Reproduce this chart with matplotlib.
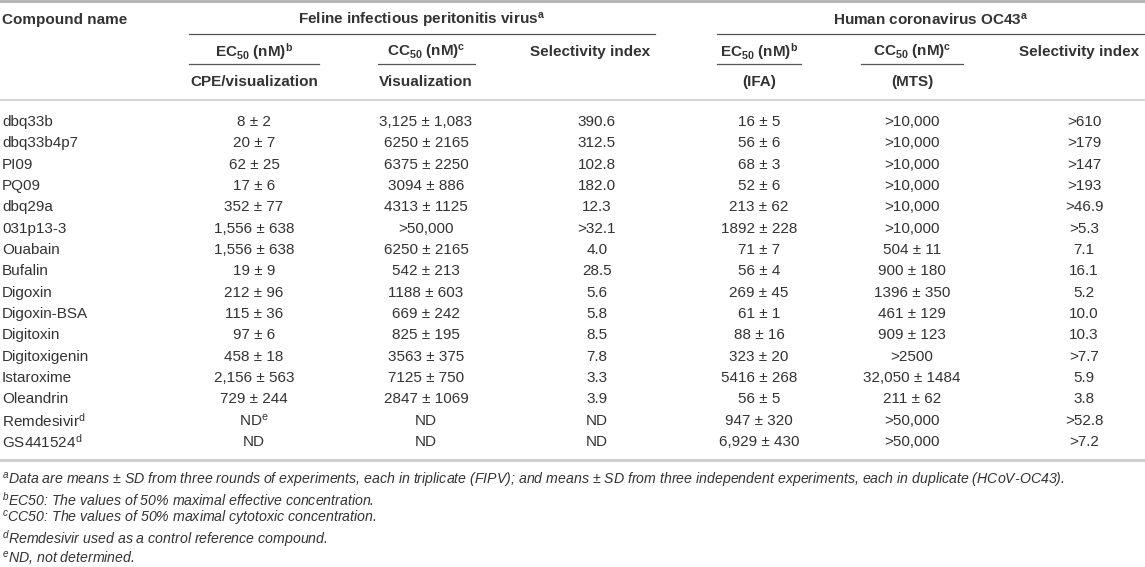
import matplotlib
matplotlib.use('Agg')
import matplotlib.pyplot as plt

plt.rcParams['font.family'] = ['Liberation Sans', 'DejaVu Sans']
plt.rcParams['mathtext.fontset'] = 'custom'
plt.rcParams['mathtext.rm'] = 'Liberation Sans'
plt.rcParams['mathtext.it'] = 'Liberation Sans:italic'
plt.rcParams['mathtext.bf'] = 'Liberation Sans:bold'
plt.rcParams['mathtext.default'] = 'regular'

# table data
compounds = ['dbq33b', 'dbq33b4p7', 'PI09', 'PQ09', 'dbq29a', '031p13-3', 'Ouabain',
             'Bufalin', 'Digoxin', 'Digoxin-BSA', 'Digitoxin', 'Digitoxigenin',
             'Istaroxime', 'Oleandrin', 'Remdesivir$^{d}$', 'GS441524$^{d}$']
fipv_ec50 = ['8 ± 2', '20 ± 7', '62 ± 25', '17 ± 6', '352 ± 77', '1,556 ± 638',
             '1,556 ± 638', '19 ± 9', '212 ± 96', '115 ± 36', '97 ± 6', '458 ± 18',
             '2,156 ± 563', '729 ± 244', 'ND$^{e}$', 'ND']
fipv_cc50 = ['3,125 ± 1,083', '6250 ± 2165', '6375 ± 2250', '3094 ± 886', '4313 ± 1125',
             '>50,000', '6250 ± 2165', '542 ± 213', '1188 ± 603', '669 ± 242',
             '825 ± 195', '3563 ± 375', '7125 ± 750', '2847 ± 1069', 'ND', 'ND']
fipv_si = ['390.6', '312.5', '102.8', '182.0', '12.3', '>32.1', '4.0', '28.5', '5.6',
           '5.8', '8.5', '7.8', '3.3', '3.9', 'ND', 'ND']
oc43_ec50 = ['16 ± 5', '56 ± 6', '68 ± 3', '52 ± 6', '213 ± 62', '1892 ± 228', '71 ± 7',
             '56 ± 4', '269 ± 45', '61 ± 1', '88 ± 16', '323 ± 20', '5416 ± 268',
             '56 ± 5', '947 ± 320', '6,929 ± 430']
oc43_cc50 = ['>10,000', '>10,000', '>10,000', '>10,000', '>10,000', '>10,000', '504 ± 11',
             '900 ± 180', '1396 ± 350', '461 ± 129', '909 ± 123', '>2500',
             '32,050 ± 1484', '211 ± 62', '>50,000', '>50,000']
oc43_si = ['>610', '>179', '>147', '>193', '>46.9', '>5.3', '7.1', '16.1', '5.2', '10.0',
           '10.3', '>7.7', '5.9', '3.8', '>52.8', '>7.2']

sub_head = ['EC$_{50}$ (nM)$^{b}$', 'CC$_{50}$ (nM)$^{c}$', 'Selectivity index',
            'EC$_{50}$ (nM)$^{b}$', 'CC$_{50}$ (nM)$^{c}$', 'Selectivity index']
sub_head2 = ['CPE/visualization', 'Visualization', '', '(IFA)', '(MTS)', '']

footnotes = [
    '$^{a}$Data are means ± SD from three rounds of experiments, each in triplicate (FIPV); '
    'and means ± SD from three independent experiments, each in duplicate (HCoV-OC43).',
    '$^{b}$EC50: The values of 50% maximal effective concentration.',
    '$^{c}$CC50: The values of 50% maximal cytotoxic concentration.',
    '$^{d}$Remdesivir used as a control reference compound.',
    '$^{e}$ND, not determined.',
]

W, H = 1145, 567
fig = plt.figure(figsize=(W / 100, H / 100), dpi=100)
ax = fig.add_axes([0, 0, 1, 1])
ax.set_xlim(0, W)
ax.set_ylim(H, 0)
ax.axis('off')

txt = '#333333'
fs = 11
col_x = [254, 426, 597, 759, 912, 1084]
head_x = [254, 426, 590, 759, 912, 1079]

# header
ax.text(2, 20, 'Compound name', fontsize=fs, fontweight='bold', color=txt, va='center')
ax.text(422, 20, 'Feline infectious peritonitis virus$^{a}$', fontsize=fs,
        fontweight='bold', color=txt, va='center', ha='center')
ax.text(931, 20, 'Human coronavirus OC43$^{a}$', fontsize=fs,
        fontweight='bold', color=txt, va='center', ha='center')
for x, s1, s2 in zip(head_x, sub_head, sub_head2):
    ax.text(x, 52, s1, fontsize=fs, fontweight='bold', color=txt, va='center', ha='center')
    if s2:
        ax.text(x, 82, s2, fontsize=fs, fontweight='bold', color=txt, va='center', ha='center')

# rules
ax.plot([0, W], [1, 1], color='#b0b0b0', lw=2)
ax.plot([189, 655], [34, 34], color='#555555', lw=0.9)
ax.plot([717, W], [34, 34], color='#555555', lw=0.9)
for x0, x1 in [(189, 319), (378, 475), (717, 801), (861, 963)]:
    ax.plot([x0, x1], [64, 64], color='#555555', lw=0.9)
ax.plot([0, W], [100, 100], color='#cccccc', lw=1.2)
ax.plot([0, W], [460, 460], color='#cccccc', lw=2)

# body
y0, dy = 122, 21.33
for i, name in enumerate(compounds):
    y = y0 + i * dy
    ax.text(2, y, name, fontsize=fs, color=txt, va='center')
    row = [fipv_ec50[i], fipv_cc50[i], fipv_si[i], oc43_ec50[i], oc43_cc50[i], oc43_si[i]]
    for x, v in zip(col_x, row):
        ax.text(x, y, v, fontsize=fs, color=txt, va='center', ha='center')

for i, note in enumerate(footnotes):
    ax.text(2, 480 + i * 19.5, note, fontsize=10.2, style='italic', color=txt, va='center')

fig.savefig('out.png', dpi=100, facecolor='white')
